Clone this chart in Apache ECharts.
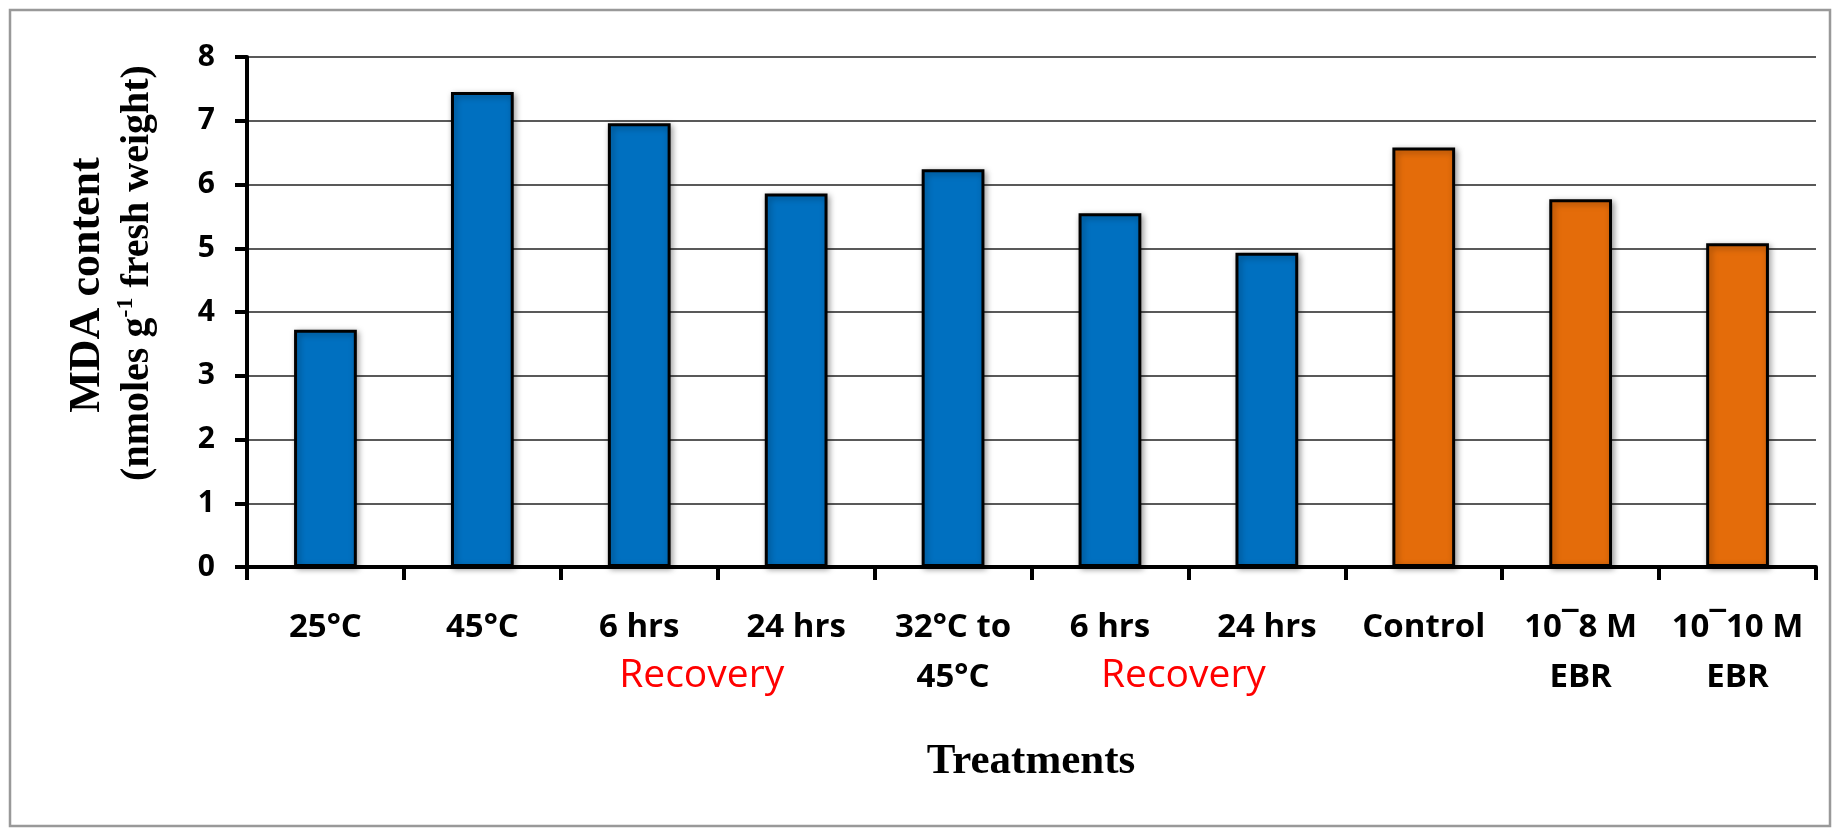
<!DOCTYPE html>
<html>
<head>
<meta charset="utf-8">
<title>MDA content</title>
<script src="https://cdn.jsdelivr.net/npm/echarts@6/dist/echarts.min.js"></script>
<style>
  html, body { margin: 0; padding: 0; background: #fff; }
  #chart { width: 1838px; height: 832px; }
</style>
</head>
<body>
<div id="chart"></div>
<script>
// treatments along the x axis
var categories = ['25°C', '45°C', '6 hrs', '24 hrs', '32°C to\n45°C', '6 hrs', '24 hrs', 'Control', '10¯8 M\nEBR', '10¯10 M\nEBR'];
// MDA content, nmoles per g fresh weight
var mdaValues = [3.72, 7.45, 6.96, 5.86, 6.24, 5.55, 4.93, 6.58, 5.77, 5.08];
// which block each bar belongs to
var groups = ['heat', 'heat', 'heat', 'heat', 'heat', 'heat', 'heat', 'ebr', 'ebr', 'ebr'];
var yTicks = [0, 1, 2, 3, 4, 5, 6, 7, 8];
// "Recovery" sits between these category pairs
var recoveryPairs = [[2, 3], [5, 6]];

var groupColors = { heat: '#0070C0', ebr: '#E46C0A' };
var recoveryShift = [-16, -5];

var myChart = echarts.init(document.getElementById('chart'));

var option = {
    animation: false,
    backgroundColor: '#fff',
    grid: { left: 247, right: 22, top: 57, bottom: 265, containLabel: false },
    xAxis: {
        type: 'category',
        data: categories,
        axisLine: { lineStyle: { color: '#000', width: 4 } },
        axisTick: { show: true, length: 13, lineStyle: { color: '#000', width: 4 } },
        axisLabel: {
            margin: 36,
            interval: 0,
            color: '#000',
            fontFamily: 'Open Sans',
            fontWeight: 'bold',
            fontSize: 33,
            lineHeight: 50
        }
    },
    yAxis: {
        type: 'value',
        min: yTicks[0],
        max: yTicks[yTicks.length - 1],
        interval: 1,
        axisLine: { show: true, lineStyle: { color: '#000', width: 4 } },
        axisTick: { show: true, length: 12, lineStyle: { color: '#000', width: 4 } },
        axisLabel: {
            margin: 32,
            color: '#000',
            fontFamily: 'Open Sans',
            fontWeight: 'bold',
            fontSize: 30
        },
        splitLine: { show: true, lineStyle: { color: '#222', width: 1.5 } }
    },
    series: [{
        type: 'bar',
        barWidth: '40%',
        data: mdaValues.map(function (v, i) {
            return { value: v, itemStyle: { color: groupColors[groups[i]] } };
        }),
        itemStyle: {
            borderColor: '#000',
            borderWidth: 3,
            shadowBlur: 6,
            shadowColor: 'rgba(0,0,0,0.35)',
            shadowOffsetX: 2,
            shadowOffsetY: 2
        }
    }],
    graphic: [
        {
            type: 'rect',
            shape: { x: 10, y: 10, width: 1820, height: 816 },
            style: { fill: 'none', stroke: '#999', lineWidth: 2.5 },
            silent: true
        },
        {
            type: 'text',
            x: 88,
            y: 285,
            rotation: Math.PI / 2,
            style: {
                text: 'MDA content',
                align: 'center',
                verticalAlign: 'middle',
                fontFamily: 'Liberation Serif',
                fontWeight: 'bold',
                fontSize: 44,
                fill: '#000'
            }
        },
        {
            type: 'text',
            x: 138,
            y: 273,
            rotation: Math.PI / 2,
            style: {
                text: '{t|(nmoles g}{s|-1}{t| fresh weight)}',
                align: 'center',
                verticalAlign: 'middle',
                rich: {
                    t: { fontFamily: 'Liberation Serif', fontWeight: 'bold', fontSize: 40, lineHeight: 48, fill: '#000' },
                    s: { fontFamily: 'Liberation Serif', fontWeight: 'bold', fontSize: 24, lineHeight: 48, verticalAlign: 'top', padding: [0, 0, 18, 0], fill: '#000' }
                }
            }
        },
        {
            type: 'text',
            x: 1031,
            y: 762,
            style: {
                text: 'Treatments',
                align: 'center',
                verticalAlign: 'middle',
                fontFamily: 'Liberation Serif',
                fontWeight: 'bold',
                fontSize: 43,
                fill: '#000'
            }
        }
    ]
};
myChart.setOption(option);

// red "Recovery" notes, placed between the two category positions
var notes = recoveryPairs.map(function (p, k) {
    var x0 = myChart.convertToPixel({ xAxisIndex: 0 }, p[0]);
    var x1 = myChart.convertToPixel({ xAxisIndex: 0 }, p[1]);
    return {
        type: 'text',
        x: (x0 + x1) / 2 + recoveryShift[k],
        y: 676,
        style: {
            text: 'Recovery',
            align: 'center',
            verticalAlign: 'middle',
            fontFamily: 'Open Sans',
            fontSize: 39,
            fill: '#FF0000'
        }
    };
});
myChart.setOption({ graphic: option.graphic.concat(notes) });
</script>
</body>
</html>
